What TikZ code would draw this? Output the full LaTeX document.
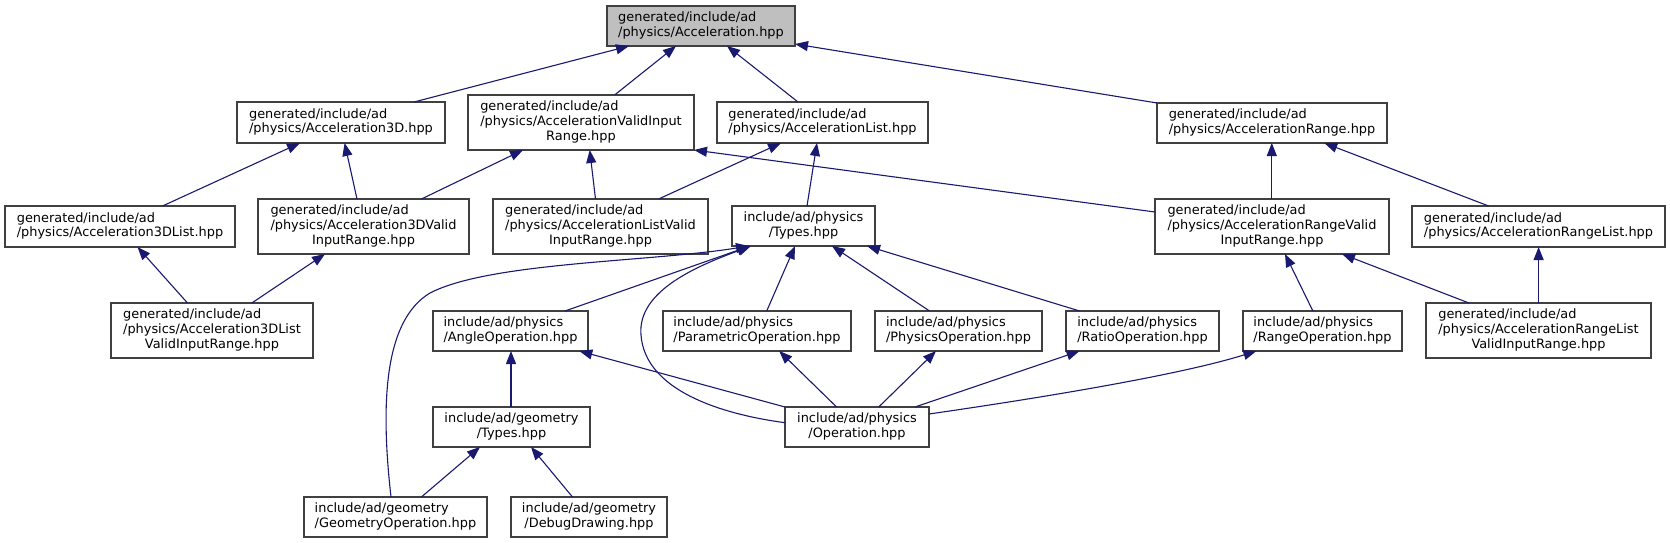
\documentclass[tikz,border=0pt]{standalone}
\usepackage{fontspec}
\setmainfont{DejaVu Sans}
\usetikzlibrary{arrows.meta}
\definecolor{midnight}{HTML}{191970}
\definecolor{greyborder}{HTML}{404040}
\definecolor{greyroot}{HTML}{BFBFBF}
\newcommand\doxfont{\fontsize{12.9pt}{14.8pt}\selectfont}
\newcommand\twol[2]{\begin{tabular}{@{}l@{}}#1\\\multicolumn{1}{@{}c@{}}{#2}\end{tabular}}
\newcommand\thrl[3]{\begin{tabular}{@{}l@{}}#1\\#2\\\multicolumn{1}{@{}c@{}}{#3}\end{tabular}}
\newcommand\mkbox[7][]{\node[box,#1,minimum width={(#5-#3)*1pt},minimum height={(#6-#4)*1pt}] (#2) at ({(#3+#5)/2},{(#4+#6)/2}) {#7};}
\begin{document}
\begin{tikzpicture}[x=1pt,y=-1pt,
  box/.style={draw=greyborder, line width=1.2pt, fill=white, inner sep=0pt, outer sep=0pt, font=\doxfont},
  rootbox/.style={fill=greyroot},
  edge/.style={draw=midnight, line width=1.1pt, -{Triangle[length=13pt,width=10pt]}}]
\useasboundingbox (0,0) rectangle (1670,543);
% nodes
\mkbox[rootbox]{A}{607}{6}{795}{46}{\twol{generated/include/ad}{/physics/Acceleration.hpp}}
\mkbox{A3D}{237}{102}{445}{143}{\twol{generated/include/ad}{/physics/Acceleration3D.hpp}}
\mkbox{AVIR}{468}{95}{694}{150}{\thrl{generated/include/ad}{/physics/AccelerationValidInput}{Range.hpp}}
\mkbox{AL}{717}{102}{928}{143}{\twol{generated/include/ad}{/physics/AccelerationList.hpp}}
\mkbox{AR}{1157}{103}{1387}{143}{\twol{generated/include/ad}{/physics/AccelerationRange.hpp}}
\mkbox{A3DL}{5}{206}{235}{247}{\twol{generated/include/ad}{/physics/Acceleration3DList.hpp}}
\mkbox{A3DVIR}{258}{199}{469}{254}{\thrl{generated/include/ad}{/physics/Acceleration3DValid}{InputRange.hpp}}
\mkbox{ALVIR}{493}{199}{708}{254}{\thrl{generated/include/ad}{/physics/AccelerationListValid}{InputRange.hpp}}
\mkbox{T}{732}{206}{875}{246}{\twol{include/ad/physics}{/Types.hpp}}
\mkbox{ARVIR}{1155}{199}{1389}{254}{\thrl{generated/include/ad}{/physics/AccelerationRangeValid}{InputRange.hpp}}
\mkbox{ARL}{1412}{206}{1665}{247}{\twol{generated/include/ad}{/physics/AccelerationRangeList.hpp}}
\mkbox{A3DLVIR}{111}{303}{313}{358}{\thrl{generated/include/ad}{/physics/Acceleration3DList}{ValidInputRange.hpp}}
\mkbox{AngOp}{433}{311}{588}{351}{\twol{include/ad/physics}{/AngleOperation.hpp}}
\mkbox{ParOp}{663}{311}{851}{351}{\twol{include/ad/physics}{/ParametricOperation.hpp}}
\mkbox{PhyOp}{875}{311}{1042}{351}{\twol{include/ad/physics}{/PhysicsOperation.hpp}}
\mkbox{RatOp}{1066}{311}{1219}{351}{\twol{include/ad/physics}{/RatioOperation.hpp}}
\mkbox{RngOp}{1243}{311}{1402}{351}{\twol{include/ad/physics}{/RangeOperation.hpp}}
\mkbox{ARLVIR}{1426}{303}{1651}{358}{\thrl{generated/include/ad}{/physics/AccelerationRangeList}{ValidInputRange.hpp}}
\mkbox{GTypes}{433}{407}{590}{447}{\twol{include/ad/geometry}{/Types.hpp}}
\mkbox{Op}{785}{407}{929}{447}{\twol{include/ad/physics}{/Operation.hpp}}
\mkbox{GeoOp}{304}{497}{487}{537}{\twol{include/ad/geometry}{/GeometryOperation.hpp}}
\mkbox{Debug}{511}{497}{667}{537}{\twol{include/ad/geometry}{/DebugDrawing.hpp}}
% edges
\draw[edge] ([xshift=177pt]A3D.north west) -- ([xshift=22pt]A.south west);
\draw[edge] ([xshift=146.6pt]AVIR.north west) -- ([xshift=69pt]A.south west);
\draw[edge] ([xshift=81pt]AL.north west) -- ([xshift=120pt]A.south west);
\draw[edge] (AR.north west) -- ([yshift=2pt]A.south east);
\draw[edge] ([xshift=157.5pt]A3DL.north west) -- ([xshift=63pt]A3D.south west);
\draw[edge] ([xshift=99pt]A3DVIR.north west) -- ([xshift=107.6pt]A3D.south west);
\draw[edge] ([xshift=163.4pt]A3DVIR.north west) -- ([xshift=55pt]AVIR.south west);
\draw[edge] ([xshift=102.5pt]ALVIR.north west) -- ([xshift=121.7pt]AVIR.south west);
\draw[edge] ([yshift=-13pt]ARVIR.north west) -- (AVIR.south east);
\draw[edge] ([xshift=165.6pt]ALVIR.north west) -- ([xshift=64pt]AL.south west);
\draw[edge] ([xshift=75pt]T.north west) -- ([xshift=100pt]AL.south west);
\draw[edge] ([xshift=116.8pt]ARVIR.north west) -- ([xshift=114.8pt]AR.south west);
\draw[edge] ([xshift=76.6pt]ARL.north west) -- ([xshift=167.3pt]AR.south west);
\draw[edge] ([xshift=76.5pt]A3DLVIR.north west) -- ([xshift=132.5pt]A3DL.south west);
\draw[edge] ([xshift=140.8pt]A3DLVIR.north west) -- ([xshift=67pt]A3DVIR.south west);
\draw[edge] ([xshift=69.9pt]RngOp.north west) -- ([xshift=130pt]ARVIR.south west);
\draw[edge] ([xshift=42.9pt]ARLVIR.north west) -- ([xshift=187pt]ARVIR.south west);
\draw[edge] ([xshift=112.6pt]ARLVIR.north west) -- ([xshift=126.6pt]ARL.south west);
\draw[edge] ([xshift=87pt]GeoOp.north west) .. controls (380,400) and (385,320) .. (430,293) .. controls (490,262) and (650,262) .. ([xshift=17pt]T.south west);
\draw[edge] ([xshift=132pt]AngOp.north west) -- ([xshift=18pt]T.south west);
\draw[edge] ([yshift=4.3pt]Op.west) .. controls (720,414) and (645,390) .. (641,335) .. controls (637,290) and (700,265) .. ([xshift=19pt]T.south west);
\draw[edge] ([xshift=103.7pt]ParOp.north west) -- ([xshift=63pt]T.south west);
\draw[edge] ([xshift=54.6pt]PhyOp.north west) -- ([xshift=100pt]T.south west);
\draw[edge] ([xshift=13.6pt]RatOp.north west) -- ([xshift=135pt]T.south west);
\draw[edge] ([xshift=78pt]GTypes.north west) -- ([xshift=78pt]AngOp.south west);
\draw[edge] (Op.north west) -- ([xshift=146.3pt]AngOp.south west);
\draw[edge] ([xshift=51.6pt]Op.north west) -- ([xshift=116.2pt]ParOp.south west);
\draw[edge] ([xshift=93.7pt]Op.north west) -- ([xshift=61pt]PhyOp.south west);
\draw[edge] ([xshift=130pt]Op.north west) -- ([xshift=13.6pt]RatOp.south west);
\draw[edge] ([yshift=-7pt]Op.north east) .. controls (1040,398) and (1180,375) .. ([xshift=13.4pt]RngOp.south west);
\draw[edge] ([xshift=117.4pt]GeoOp.north west) -- ([xshift=47pt]GTypes.south west);
\draw[edge] ([xshift=61.5pt]Debug.north west) -- ([xshift=98pt]GTypes.south west);
\end{tikzpicture}
\end{document}
